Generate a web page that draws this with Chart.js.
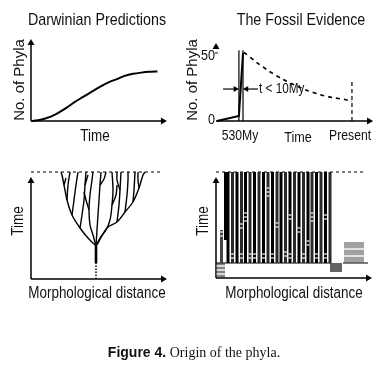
<!DOCTYPE html>
<html>
<head>
<meta charset="utf-8">
<script src="https://cdn.jsdelivr.net/npm/chart.js@4.4.1/dist/chart.umd.min.js"></script>
<style>
  html, body { margin: 0; padding: 0; background: #fff; }
  #wrap { position: relative; width: 387px; height: 387px; overflow: hidden; }
  canvas { position: absolute; left: 0; top: 0; }
  .t { position: absolute; white-space: nowrap; color: #111; line-height: 1;
       font-family: "Liberation Sans", Arial, sans-serif;
       transform: translate(-50%, -50%) scaleX(0.84); }
  .rot { transform: translate(-50%, -50%) rotate(-90deg) scaleX(0.84); }
  .rotw { transform: translate(-50%, -50%) rotate(-90deg); }
  .cap { font-family: "Liberation Serif", serif; font-size: 14px; transform: translate(-50%, -50%); }
  .cap b { font-family: "Liberation Sans", Arial, sans-serif; }
</style>
</head>
<body>
<div id="wrap">
  <canvas id="c1" width="387" height="387"></canvas>
  <canvas id="c2" width="387" height="387"></canvas>
  <canvas id="c3" width="387" height="387"></canvas>
  <canvas id="c4" width="387" height="387"></canvas>

  <div class="t" style="left:97px;top:19px;font-size:17px">Darwinian Predictions</div>
  <div class="t" style="left:301px;top:19px;font-size:17px">The Fossil Evidence</div>
  <div class="t rotw" style="left:18px;top:80px;font-size:15px">No. of Phyla</div>
  <div class="t rotw" style="left:191px;top:80px;font-size:15px">No. of Phyla</div>
  <div class="t" style="left:95px;top:136px;font-size:16px">Time</div>
  <div class="t" style="left:298px;top:136px;font-size:15px">Time</div>
  <div class="t rot" style="left:18px;top:221px;font-size:16px">Time</div>
  <div class="t rot" style="left:203px;top:221px;font-size:16px">Time</div>
  <div class="t" style="left:97px;top:293px;font-size:16px">Morphological distance</div>
  <div class="t" style="left:294px;top:293px;font-size:16px">Morphological distance</div>
  <div class="t cap" style="left:194px;top:352px"><b>Figure 4.</b> Origin of the phyla.</div>
</div>
<script>
// --- top left: Darwinian prediction ---
const darwinTime  = [0, 7, 14, 20, 26, 32, 38, 45, 51, 57, 63, 69, 75, 81, 87, 93];
const darwinPhyla = [0, 1.5, 5, 10, 16, 23, 29, 36, 42, 47, 51, 55, 57.5, 59, 60, 60.5];

// --- top right: fossil evidence ---
const fossilTime    = [0.6, 14.6, 17.2];
const fossilPhyla   = [0, 3.7, 50];
const survivorTime  = [17.8, 26, 34, 42, 50, 58, 66, 74, 82, 86.6];
const survivorPhyla = [50.5, 43, 36.5, 31, 26.5, 22.5, 19.5, 17.3, 15.8, 14.5];
const cambrianBounds = [14.6, 17.2];
const cambrianTop = 52;
const presentTime = 86.6;
const presentTop = 28.7;
const intervalLevel = 23.5;
const fossilYTicks = [0, 50];
const fossilXTicks = [15.3, 85.4];
const fossilXLabels = ['530My', 'Present'];

// --- bottom left: predicted tree (x = morphology, y = time) ---
const rootMorph = [65, 65];
const rootTime  = [0, 16];
const branchMorph = [
  [65, 65],
  [65, 57, 49, 41, 36, 33, 31, 30],
  [49, 51, 53, 54, 55],
  [41, 43, 45, 47],
  [36, 37, 39],
  [65, 62, 59, 58, 59, 61, 62],
  [65, 66, 67, 68, 69, 70],
  [65, 69, 75, 79, 81, 82, 81],
  [66, 76, 86, 94, 102, 108, 112, 114],
  [86, 88, 89, 90],
  [94, 96, 97, 97],
  [102, 103, 104],
  [58, 55, 53],
  [81, 85, 86],
  [108, 107, 107],
  [33, 35],
  [69, 73, 75],
  [89, 86, 86],
  [54, 57]
];
const branchTime = [
  [16, 33],
  [33, 41, 51, 64, 79, 94, 104, 107],
  [51, 64, 79, 94, 107],
  [64, 79, 94, 107],
  [79, 94, 107],
  [33, 44, 54, 69, 84, 99, 107],
  [33, 49, 64, 79, 94, 107],
  [33, 41, 49, 59, 74, 89, 107],
  [34, 51, 57, 67, 77, 91, 104, 107],
  [57, 74, 89, 107],
  [67, 84, 99, 107],
  [77, 89, 107],
  [69, 79, 87],
  [74, 84, 94],
  [91, 99, 107],
  [94, 101],
  [94, 100, 107],
  [89, 99, 107],
  [94, 104]
];
const treeTop = 107;

// --- bottom right: observed phyla ---
const phylaMorph = [12, 16.5, 21, 25.5, 29.5, 34, 38.5, 43, 47.5, 52, 56.5, 61, 65, 69.5,
                    74, 78.5, 83, 87.5, 92, 96, 100.5, 105, 109.5, 114];
const originLevel = 15;
const presentLevel = 106;
const earlyMorph = [9.5];  const earlyFrom = 38;
const shortMorph = [5.5];  const shortTo = 48;
const leftHatch  = [2, 4, 6, 8];
const dipHatch   = [115, 117, 119, 121, 123, 125];  const dipLevel = 6;
const rightHatch = [129, 131, 133, 135, 137, 139, 141, 143, 145, 147];  const rightLevel = 36;
const gapMorph = [5.5, 5.5, 25.5, 25.5, 29.5, 29.5, 29.5, 52, 52, 52, 61, 61, 74, 74, 83, 83,
                  92, 92, 96, 96, 96, 109.5, 109.5,
                  16.5, 16.5, 25.5, 25.5, 34, 34, 38.5, 38.5, 47.5, 47.5, 56.5, 56.5, 69.5, 69.5,
                  74, 74, 87.5, 87.5, 100.5, 100.5, 109.5, 109.5];
const gapTime  = [42, 46, 50, 54, 57, 61, 65, 82, 86, 90, 51, 55, 59, 63, 46, 50,
                  33, 37, 57, 61, 65, 59, 63,
                  20, 24, 20, 24, 20, 24, 20, 24, 20, 24, 20, 24, 22, 26,
                  20, 24, 20, 24, 20, 24, 20, 24];
const leftHatchBreaks = [4, 8, 12];
const rightHatchBreaks = [22, 29];

const FONT = '"Liberation Sans", Arial, sans-serif';
const NARROW_SCALE = 0.84;

function xy(xs, ys) { return xs.map((v, i) => ({ x: v, y: ys[i] })); }
function line(points, extra) {
  return Object.assign({ type: 'line', data: points, borderColor: '#000', borderWidth: 1.5,
    pointRadius: 0, fill: false, tension: 0, clip: false, borderCapStyle: 'butt' }, extra);
}
function arrow(x, y, rot, r) {
  return { type: 'line', data: [{ x: x, y: y }], showLine: false, clip: false,
    pointStyle: 'triangle', pointRadius: r || 4, pointRotation: rot,
    pointBackgroundColor: '#000', pointBorderWidth: 0 };
}
function verticals(xs, y0, y1) {
  const pts = [];
  xs.forEach(v => pts.push({ x: v, y: y0 }, { x: v, y: y1 }, { x: v, y: null }));
  return pts;
}

// tick labels and notes, drawn at data positions with a condensed look
const textPlugin = {
  id: 'texts',
  afterDatasetsDraw(chart, args, opts) {
    const { ctx, scales } = chart;
    (opts.items || []).forEach(it => {
      ctx.save();
      ctx.fillStyle = '#111';
      ctx.textBaseline = 'middle';
      ctx.font = (it.size || 15) + 'px ' + FONT;
      ctx.textAlign = it.align || 'center';
      ctx.translate(scales.x.getPixelForValue(it.x) + (it.dx || 0),
                    scales.y.getPixelForValue(it.y) + (it.dy || 0));
      ctx.scale(NARROW_SCALE, 1);
      ctx.fillText(it.text, 0, 0);
      ctx.restore();
    });
  }
};

function options(xmax, ymax, pad, texts) {
  return {
    responsive: false, animation: false, events: [],
    layout: { padding: pad },
    scales: {
      x: { type: 'linear', min: 0, max: xmax, display: false },
      y: { type: 'linear', min: 0, max: ymax, display: false }
    },
    plugins: { legend: { display: false }, tooltip: { enabled: false }, texts: { items: texts || [] } }
  };
}

// top left
new Chart(document.getElementById('c1'), {
  type: 'line',
  data: { datasets: [
    line(xy(darwinTime, darwinPhyla), { borderWidth: 2, tension: 0.3 }),
    line([{ x: 0, y: 0 }, { x: 97, y: 0 }]),
    line([{ x: 0, y: 0 }, { x: 0, y: 95 }]),
    arrow(97, 0, 90),
    arrow(0, 95, 0)
  ] },
  options: options(100, 100, { left: 31, right: 220, top: 39, bottom: 266 }),
  plugins: [textPlugin]
});

// top right
const fossilTexts = fossilYTicks.map((v, i) => ({ text: String(v), x: 0, y: v, dx: -1, dy: i ? 3 : -1, align: 'right', size: 15 }))
  .concat(fossilXTicks.map((v, i) => ({ text: fossilXLabels[i], x: v, y: 0, dy: 15, size: 14.5 })))
  .concat([{ text: 't < 10My', x: 27.4, y: intervalLevel, align: 'left', size: 14 }]);
new Chart(document.getElementById('c2'), {
  type: 'line',
  data: { datasets: [
    line(xy(fossilTime, fossilPhyla), { borderWidth: 2 }),
    line(xy(survivorTime, survivorPhyla), { borderWidth: 1.6, borderDash: [4, 4], tension: 0.3 }),
    line(verticals(cambrianBounds, 0, cambrianTop), { borderWidth: 1.2 }),
    line([{ x: presentTime, y: 0 }, { x: presentTime, y: presentTop }], { borderWidth: 1.2, borderDash: [4, 3] }),
    line([{ x: 4.5, y: intervalLevel }, { x: 12.6, y: intervalLevel }], { borderWidth: 1.2 }),
    line([{ x: 19.3, y: intervalLevel }, { x: 26.8, y: intervalLevel }], { borderWidth: 1.2 }),
    arrow(12.4, intervalLevel, 90, 3.5),
    arrow(19.4, intervalLevel, 270, 3.5),
    line([{ x: -0.7, y: 50 }, { x: 1.2, y: 50 }], { borderWidth: 1 }),
    line([{ x: 0, y: 0 }, { x: 97.5, y: 0 }]),
    arrow(97.5, 0, 90),
    arrow(0, 54.4, 0)
  ] },
  options: options(100, 57.35, { left: 216, right: 14, top: 43, bottom: 266 }, fossilTexts),
  plugins: [textPlugin]
});

// bottom left
const treeSets = branchMorph.map((xs, i) => line(xy(xs, branchTime[i]), { borderWidth: i === 0 ? 2.6 : 1.4, tension: 0.35 }));
new Chart(document.getElementById('c3'), {
  type: 'line',
  data: { datasets: [
    line(xy(rootMorph, rootTime), { borderWidth: 1.5, borderDash: [1.5, 1.5] }),
    ...treeSets,
    line([{ x: 0, y: treeTop }, { x: 129, y: treeTop }], { borderWidth: 1, borderDash: [3, 3] }),
    line([{ x: 0, y: 0 }, { x: 132, y: 0 }]),
    line([{ x: 0, y: 0 }, { x: 0, y: 98 }]),
    arrow(132, 0, 90),
    arrow(0, 98, 0)
  ] },
  options: options(136, 107, { left: 31, right: 220, top: 172, bottom: 108 }),
  plugins: [textPlugin]
});

// bottom right
const gapPoints = xy(gapMorph, gapTime)
  .concat(leftHatch.flatMap(v => leftHatchBreaks.map(b => ({ x: v, y: b }))))
  .concat(rightHatch.flatMap(v => rightHatchBreaks.map(b => ({ x: v, y: b }))));
new Chart(document.getElementById('c4'), {
  type: 'line',
  data: { datasets: [
    { type: 'line', data: gapPoints, showLine: false, clip: false, pointStyle: 'line',
      pointRadius: 1.4, pointBorderColor: '#fff', pointBorderWidth: 1.2 },
    line(verticals(phylaMorph.filter((v, i) => i % 2 === 0), originLevel, presentLevel), { borderWidth: 3 }),
    line(verticals(phylaMorph.filter((v, i) => i % 2 === 1), originLevel, presentLevel), { borderWidth: 3, borderColor: '#2a2a2a' }),
    line(verticals(earlyMorph, earlyFrom, presentLevel), { borderWidth: 3 }),
    line(verticals(shortMorph, originLevel, shortTo), { borderWidth: 3, borderColor: '#444' }),
    line(verticals(leftHatch, 0, originLevel), { borderWidth: 1.2, borderColor: '#333' }),
    line(verticals(dipHatch, dipLevel, originLevel), { borderWidth: 1.4, borderColor: '#222' }),
    line(verticals(rightHatch, originLevel, rightLevel), { borderWidth: 1.1, borderColor: '#555' }),
    line([{ x: 0, y: originLevel }, { x: 115, y: originLevel }, { x: 115, y: null },
          { x: 127, y: originLevel }, { x: 152, y: originLevel }], { borderWidth: 1.2 }),
    line([{ x: 0, y: presentLevel }, { x: 150, y: presentLevel }], { borderWidth: 1, borderDash: [3, 3] }),
    line([{ x: 0, y: 0 }, { x: 152, y: 0 }]),
    line([{ x: 0, y: 0 }, { x: 0, y: 97 }]),
    arrow(152, 0, 90),
    arrow(0, 97, 0)
  ] },
  options: options(156, 106, { left: 216, right: 15, top: 172, bottom: 109 }),
  plugins: [textPlugin]
});
</script>
</body>
</html>
